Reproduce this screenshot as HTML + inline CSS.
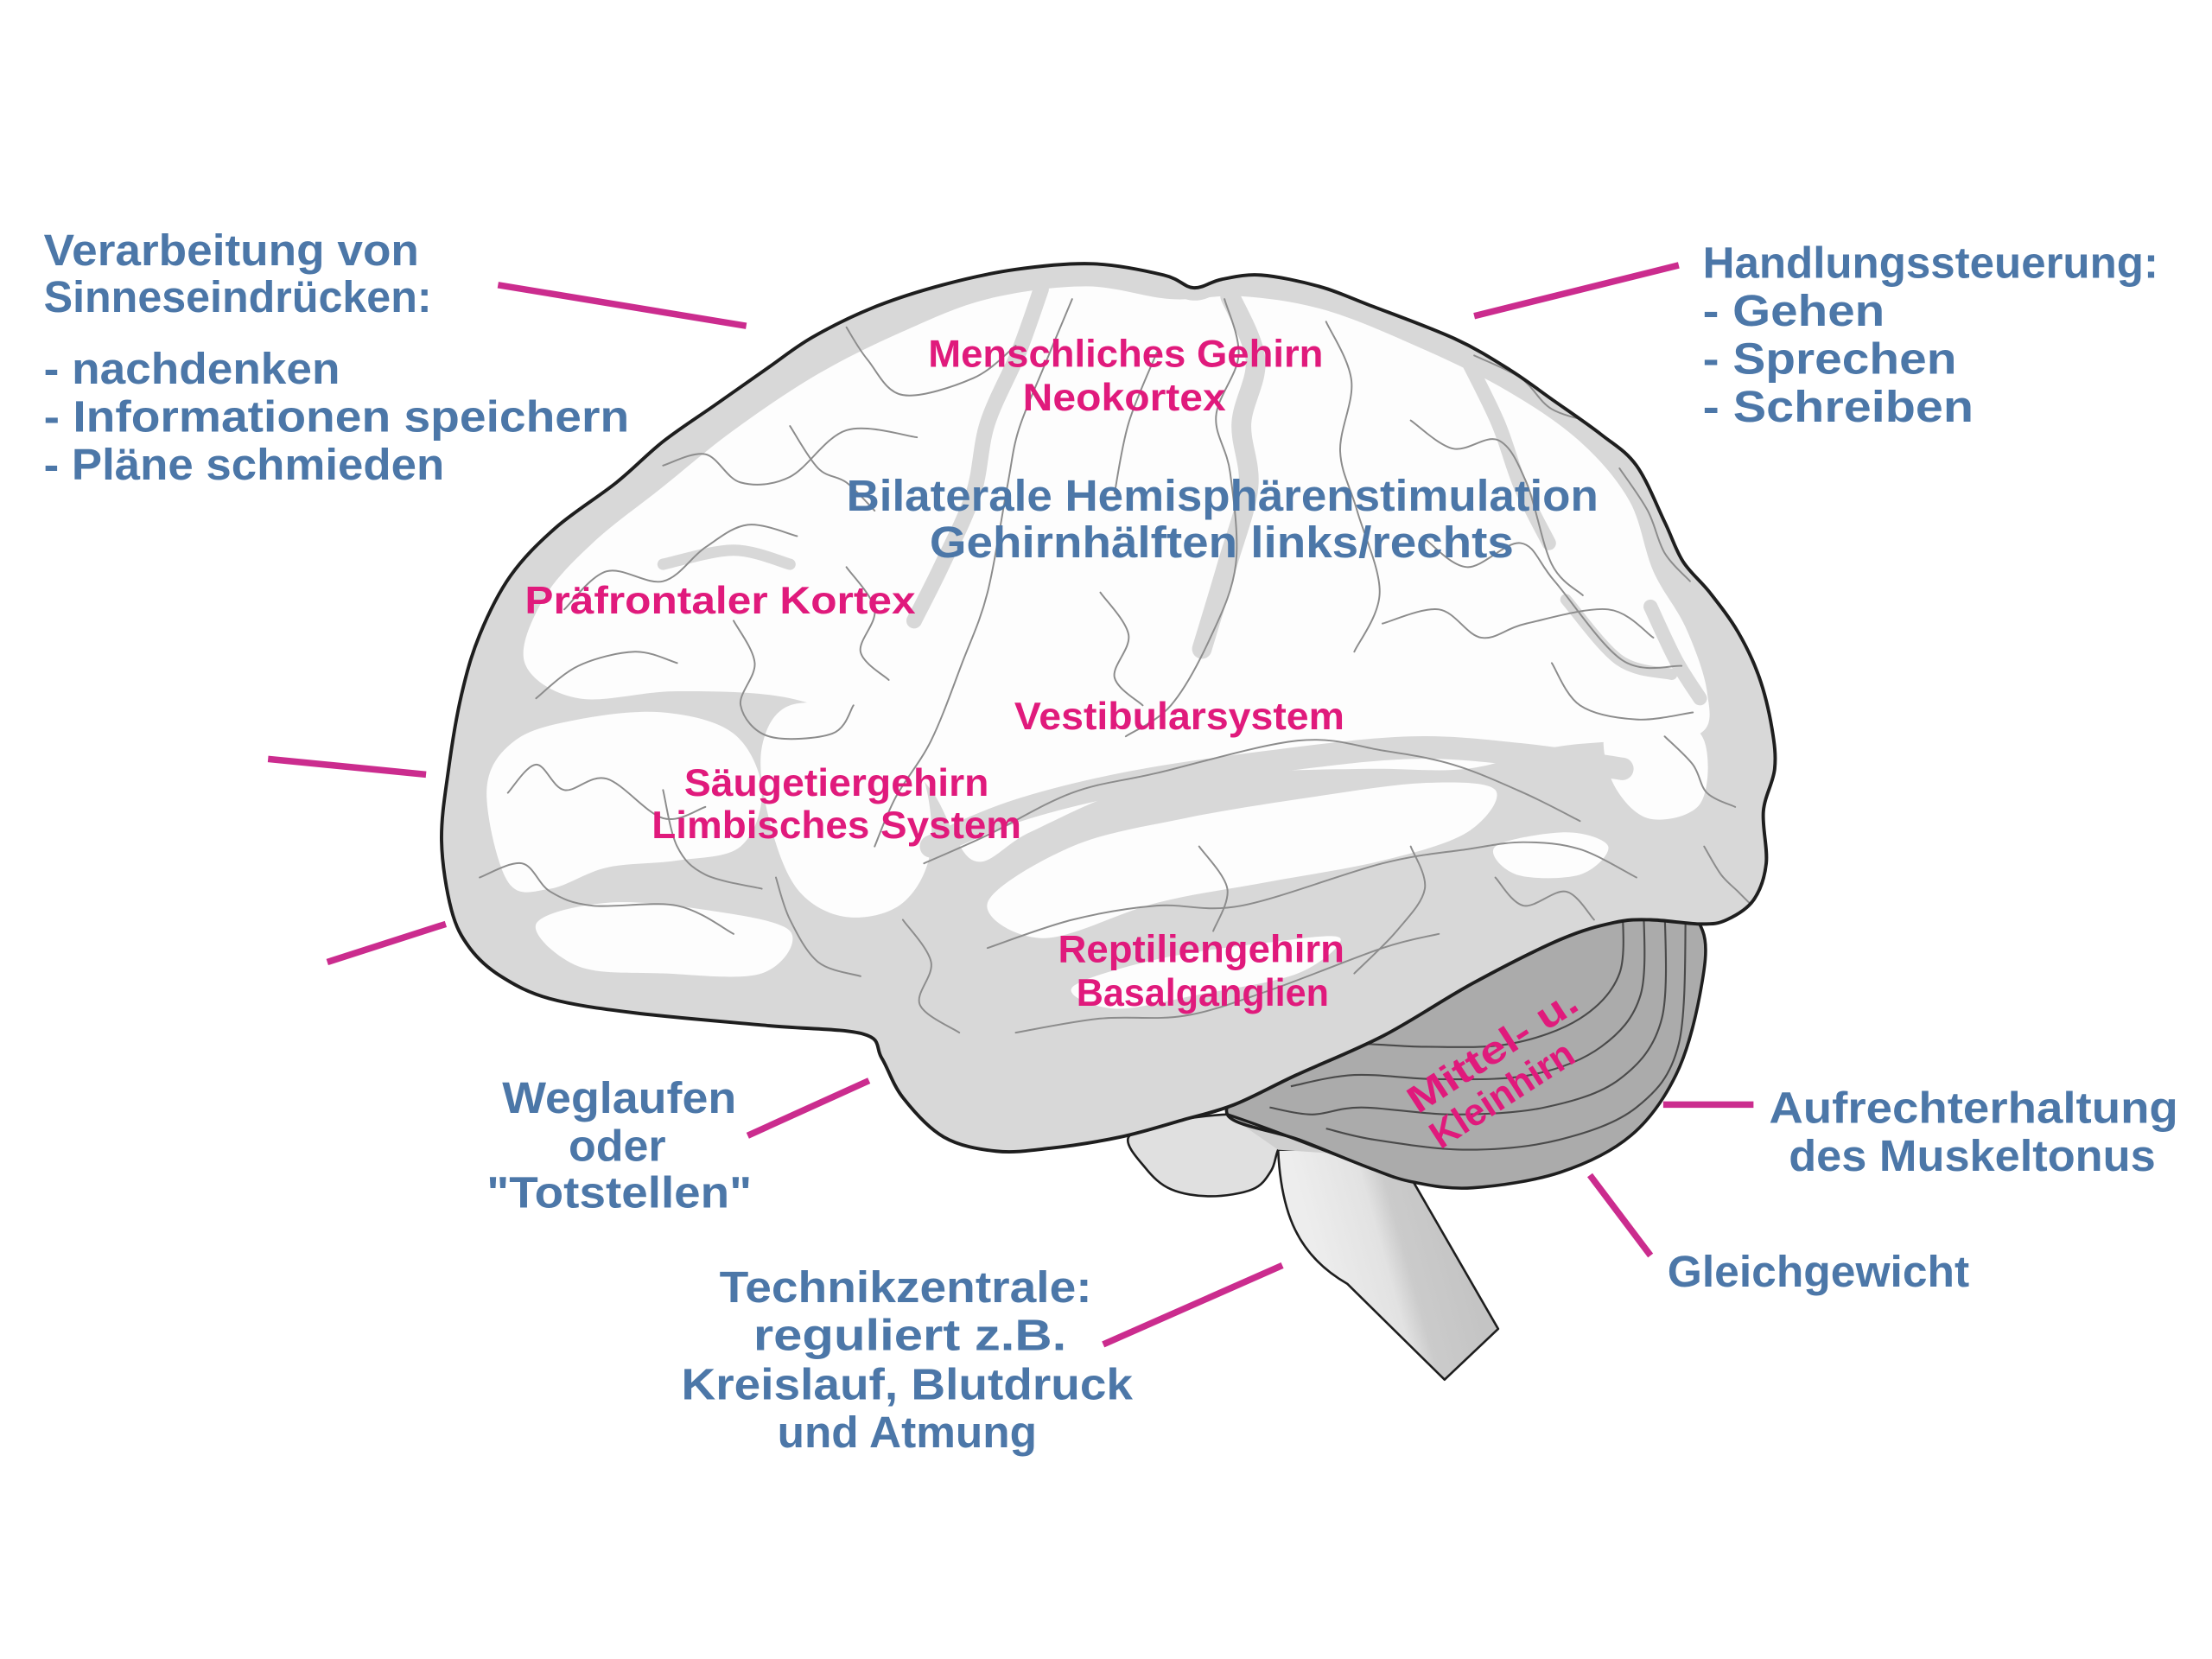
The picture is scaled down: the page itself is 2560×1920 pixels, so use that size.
<!DOCTYPE html>
<html>
<head>
<meta charset="utf-8">
<style>
  html,body{margin:0;padding:0;background:#ffffff;}
  body{width:2560px;height:1920px;overflow:hidden;}
  svg{display:block;}
  .blue{fill:#4c77a8;font-family:"Liberation Sans",sans-serif;font-weight:bold;font-size:31px;}
  .pink{fill:#e01a7c;font-family:"Liberation Sans",sans-serif;font-weight:bold;font-size:27px;}
</style>
</head>
<body>
<svg width="2560" height="1920" viewBox="0 0 1568 1176" xmlns="http://www.w3.org/2000/svg">
  <defs>
    <clipPath id="cerClip">
      <polygon class="s" points="313,596 318,545 327,493 340,450 362,408 394,374 437,342 470,313 507,287 544,261 576,239 619,218 668,202 720,191 775,187 825,195 846,204 866,198 894,195 935,203 970,216 1031,240 1070,262 1100,283 1135,308 1160,330 1180,370 1193,398 1212,420 1232,448 1247,480 1256,516 1258,545 1250,575 1252,612 1243,638 1224,652 1206,655 1170,652 1144,654 1106,666 1044,697 981,734 919,762 875,783 838,794 794,806 744,814 706,816 669,806 640,778 625,750 612,733 544,727 450,718 390,708 355,692 333,672 320,645"/>
    </clipPath>
    <linearGradient id="stemGrad" gradientUnits="userSpaceOnUse" x1="935" y1="895" x2="1032" y2="868">
      <stop offset="0" stop-color="#ededed"/>
      <stop offset="0.45" stop-color="#e2e2e2"/>
      <stop offset="0.6" stop-color="#cbcbcb"/>
      <stop offset="1" stop-color="#c4c4c4"/>
    </linearGradient>
  </defs>

  <!-- Medulla / brainstem -->
  <path d="M906,815 C908,860 920,890 955,910 L1024,978 L1062,942 L1002,838 L950,815 Z" fill="url(#stemGrad)" stroke="#1e1e1e" stroke-width="1.6" stroke-linejoin="round"/>
  <!-- Pons lobe -->
  <polygon class="s" points="800,806 812,828 830,843 858,848 888,843 901,830 906,815 914,800 880,790 830,795" fill="#e0e0e0" stroke="#1e1e1e" stroke-width="1.6"/>
  <path d="M870,790 L921,808 L950,818 L906,815 Z" fill="#cfcfcf"/>

  <!-- Cerebellum -->
  <polygon class="s" points="870,790 921,808 971,828 1002,838 1044,842 1106,831 1156,805 1188,762 1205,705 1207,660 1180,640 1100,650 1000,700 900,760" fill="#ababab" stroke="#1e1e1e" stroke-width="2.2"/>
  <g fill="none" stroke="#4a4a4a" stroke-width="1.3">
    <polyline class="s" points="1150,640 1148,690 1120,722 1070,740 1010,742 960,740 930,745"/>
    <polyline class="s" points="1165,640 1163,705 1135,742 1085,762 1020,765 960,762 915,770"/>
    <polyline class="s" points="1180,640 1178,722 1148,765 1095,785 1030,790 965,785 930,790 900,785"/>
    <polyline class="s" points="1195,645 1190,740 1160,785 1105,808 1040,815 975,808 940,800"/>
  </g>
  <path d="M870,790 C900,800 930,812 971,828" fill="none" stroke="#1e1e1e" stroke-width="2"/>

  <!-- Cerebrum base -->
  <polygon class="s" points="313,596 318,545 327,493 340,450 362,408 394,374 437,342 470,313 507,287 544,261 576,239 619,218 668,202 720,191 775,187 825,195 846,204 866,198 894,195 935,203 970,216 1031,240 1070,262 1100,283 1135,308 1160,330 1180,370 1193,398 1212,420 1232,448 1247,480 1256,516 1258,545 1250,575 1252,612 1243,638 1224,652 1206,655 1170,652 1144,654 1106,666 1044,697 981,734 919,762 875,783 838,794 794,806 744,814 706,816 669,806 640,778 625,750 612,733 544,727 450,718 390,708 355,692 333,672 320,645" fill="#d8d8d8"/>

  <g clip-path="url(#cerClip)">
    <!-- white gyri -->
    <g fill="#fdfdfd">
      <polygon class="s" points="372,470 385,425 420,385 470,345 520,305 580,265 640,235 700,212 770,203 830,212 880,210 940,220 1010,248 1070,278 1120,313 1155,355 1172,405 1195,445 1210,490 1205,520 1150,525 1100,530 1040,545 970,545 880,548 800,560 730,590 690,610 660,560 620,520 560,495 480,490 410,495"/>
      <polygon class="s" points="345,560 365,525 410,510 470,505 520,520 540,560 525,600 480,610 430,615 390,630 360,625"/>
      <polygon class="s" points="700,640 760,600 840,580 930,565 1010,555 1060,560 1040,590 980,610 900,625 820,640 740,665"/>
      <polygon class="s" points="1140,512 1180,505 1208,525 1205,570 1168,580 1142,552"/>
      <polygon class="s" points="760,700 820,680 900,668 950,665 920,690 850,705 790,715"/>
      <polygon class="s" points="380,655 430,640 500,645 560,660 540,690 470,690 410,685"/>
      <polygon class="s" points="560,500 610,505 650,540 660,600 640,640 600,650 565,630 545,580 540,530"/>
      <polygon class="s" points="1060,600 1110,590 1140,600 1120,620 1075,620"/>
    </g>
    <!-- grey sulcus shading bands -->
    <g fill="none" stroke="#d8d8d8" stroke-linecap="round" stroke-linejoin="round">
      <polyline class="s" points="738,205 722,250 700,300 690,350 668,400 648,440" stroke-width="11"/>
      <polyline class="s" points="872,210 890,255 880,300 885,345 870,400 852,460" stroke-width="14"/>
      <polyline class="s" points="1040,255 1062,300 1078,345 1098,385" stroke-width="10"/>
      <polyline class="s" points="660,600 720,575 800,555 900,540 1000,530 1080,535 1150,545" stroke-width="16"/>
      <polyline class="s" points="470,400 520,390 560,400" stroke-width="8"/>
      <polyline class="s" points="1170,430 1188,468 1205,495" stroke-width="10"/>
      <polyline class="s" points="1110,425 1148,468 1185,478" stroke-width="8"/>
    </g>
    <!-- rim shading -->
    <polygon class="s" points="313,596 318,545 327,493 340,450 362,408 394,374 437,342 470,313 507,287 544,261 576,239 619,218 668,202 720,191 775,187 825,195 846,204 866,198 894,195 935,203 970,216 1031,240 1070,262 1100,283 1135,308 1160,330 1180,370 1193,398 1212,420 1232,448 1247,480 1256,516 1258,545 1250,575 1252,612 1243,638 1224,652 1206,655 1170,652 1144,654 1106,666 1044,697 981,734 919,762 875,783 838,794 794,806 744,814 706,816 669,806 640,778 625,750 612,733 544,727 450,718 390,708 355,692 333,672 320,645" fill="none" stroke="#d8d8d8" stroke-width="18"/>
    <!-- sulci lines -->
    <g fill="none" stroke="#8c8c8c" stroke-width="1.2" stroke-linecap="round">
      <polyline class="s" points="470,330 500,322 525,342 560,338 600,305 650,310"/>
      <polyline class="s" points="600,232 615,255 640,280 690,268 720,245"/>
      <polyline class="s" points="400,432 430,405 470,412 500,388 530,372 565,380"/>
      <polyline class="s" points="380,495 410,472 450,462 480,470"/>
      <polyline class="s" points="520,440 535,470 525,500 545,522 590,520 605,500"/>
      <polyline class="s" points="760,212 740,260 722,305 714,345 700,420 682,470 660,525 635,565 620,600"/>
      <polyline class="s" points="868,212 878,252 862,295 872,335 876,400 858,452 830,500 798,522"/>
      <polyline class="s" points="940,228 958,270 950,320 962,362 978,420 960,462"/>
      <polyline class="s" points="1000,298 1030,318 1062,312 1082,342 1100,400 1122,422"/>
      <polyline class="s" points="1045,252 1078,268 1100,290 1132,300"/>
      <polyline class="s" points="980,442 1020,432 1050,452 1082,442 1140,432 1172,452"/>
      <polyline class="s" points="1010,382 1040,402 1078,385 1102,412 1150,468 1192,472"/>
      <polyline class="s" points="1148,332 1168,362 1180,392 1198,412"/>
      <polyline class="s" points="655,612 700,592 760,562 820,548 920,525 980,532 1030,542 1080,562 1120,582"/>
      <polyline class="s" points="700,672 760,652 820,642 880,642 980,612 1040,602 1080,597 1120,602 1160,622"/>
      <polyline class="s" points="720,732 780,722 840,720 900,702 980,672 1020,662"/>
      <polyline class="s" points="1180,522 1200,542 1210,562 1230,572"/>
      <polyline class="s" points="360,562 380,542 400,560 430,552 470,580 500,572"/>
      <polyline class="s" points="340,622 370,612 390,632 420,642 480,642 520,662"/>
      <polyline class="s" points="550,622 560,652 580,682 610,692"/>
      <polyline class="s" points="640,652 660,682 652,712 680,732"/>
      <polyline class="s" points="1060,622 1080,642 1110,632 1130,652"/>
      <polyline class="s" points="1208,600 1220,620 1232,632 1242,642"/>
      <polyline class="s" points="600,402 620,432 610,462 630,482"/>
      <polyline class="s" points="560,302 580,332 600,342 620,362"/>
      <polyline class="s" points="780,420 800,450 790,480 810,500"/>
      <polyline class="s" points="470,560 480,600 500,620 540,630"/>
      <polyline class="s" points="820,250 800,300 790,350"/>
      <polyline class="s" points="1100,470 1120,500 1160,510 1200,505"/>
      <polyline class="s" points="1000,600 1010,630 990,660 960,690"/>
      <polyline class="s" points="850,600 870,630 860,660"/>
    </g>
  </g>

  <!-- Cerebrum outline -->
  <polygon class="s" points="313,596 318,545 327,493 340,450 362,408 394,374 437,342 470,313 507,287 544,261 576,239 619,218 668,202 720,191 775,187 825,195 846,204 866,198 894,195 935,203 970,216 1031,240 1070,262 1100,283 1135,308 1160,330 1180,370 1193,398 1212,420 1232,448 1247,480 1256,516 1258,545 1250,575 1252,612 1243,638 1224,652 1206,655 1170,652 1144,654 1106,666 1044,697 981,734 919,762 875,783 838,794 794,806 744,814 706,816 669,806 640,778 625,750 612,733 544,727 450,718 390,708 355,692 333,672 320,645" fill="none" stroke="#1e1e1e" stroke-width="2.4" stroke-linejoin="round"/>

  <!-- Connector lines -->
  <g stroke="#cb2c8e" stroke-width="4.6" stroke-linecap="butt">
    <line x1="353" y1="202" x2="529" y2="231"/>
    <line x1="1045" y1="224" x2="1190" y2="188"/>
    <line x1="190" y1="538" x2="302" y2="549"/>
    <line x1="232" y1="682" x2="316" y2="655"/>
    <line x1="530" y1="805" x2="616" y2="766"/>
    <line x1="1179" y1="783" x2="1243" y2="783"/>
    <line x1="1127" y1="833" x2="1170" y2="890"/>
    <line x1="782" y1="953" x2="909" y2="897"/>
  </g>

  <!-- Blue labels -->
  <g class="blue">
    <text x="31" y="188" textLength="266" lengthAdjust="spacingAndGlyphs">Verarbeitung von</text>
    <text x="31" y="221" textLength="275" lengthAdjust="spacingAndGlyphs">Sinneseindrücken:</text>
    <text x="31" y="272" textLength="210" lengthAdjust="spacingAndGlyphs">- nachdenken</text>
    <text x="31" y="306" textLength="415" lengthAdjust="spacingAndGlyphs">- Informationen speichern</text>
    <text x="31" y="340" textLength="284" lengthAdjust="spacingAndGlyphs">- Pläne schmieden</text>

    <text x="1207" y="197" textLength="323" lengthAdjust="spacingAndGlyphs">Handlungssteuerung:</text>
    <text x="1207" y="231" textLength="129" lengthAdjust="spacingAndGlyphs">- Gehen</text>
    <text x="1207" y="265" textLength="180" lengthAdjust="spacingAndGlyphs">- Sprechen</text>
    <text x="1207" y="299" textLength="192" lengthAdjust="spacingAndGlyphs">- Schreiben</text>

    <text x="600" y="362" textLength="533" lengthAdjust="spacingAndGlyphs">Bilaterale Hemisphärenstimulation</text>
    <text x="659" y="395" textLength="414" lengthAdjust="spacingAndGlyphs">Gehirnhälften links/rechts</text>

    <text x="356" y="789" textLength="166" lengthAdjust="spacingAndGlyphs">Weglaufen</text>
    <text x="403" y="823" textLength="69" lengthAdjust="spacingAndGlyphs">oder</text>
    <text x="345" y="856" textLength="188" lengthAdjust="spacingAndGlyphs">"Totstellen"</text>

    <text x="510" y="923" textLength="264" lengthAdjust="spacingAndGlyphs">Technikzentrale:</text>
    <text x="534" y="957" textLength="222" lengthAdjust="spacingAndGlyphs">reguliert z.B.</text>
    <text x="483" y="992" textLength="320" lengthAdjust="spacingAndGlyphs">Kreislauf, Blutdruck</text>
    <text x="551" y="1026" textLength="184" lengthAdjust="spacingAndGlyphs">und Atmung</text>

    <text x="1254" y="796" textLength="290" lengthAdjust="spacingAndGlyphs">Aufrechterhaltung</text>
    <text x="1268" y="830" textLength="260" lengthAdjust="spacingAndGlyphs">des Muskeltonus</text>

    <text x="1182" y="912" textLength="214" lengthAdjust="spacingAndGlyphs">Gleichgewicht</text>
  </g>

  <!-- Pink labels -->
  <g class="pink">
    <text x="658" y="260" textLength="280" lengthAdjust="spacingAndGlyphs">Menschliches Gehirn</text>
    <text x="725" y="291" textLength="144" lengthAdjust="spacingAndGlyphs">Neokortex</text>
    <text x="372" y="435" textLength="277" lengthAdjust="spacingAndGlyphs">Präfrontaler Kortex</text>
    <text x="719" y="517" textLength="234" lengthAdjust="spacingAndGlyphs">Vestibularsystem</text>
    <text x="485" y="564" textLength="216" lengthAdjust="spacingAndGlyphs">Säugetiergehirn</text>
    <text x="462" y="594" textLength="262" lengthAdjust="spacingAndGlyphs">Limbisches System</text>
    <text x="750" y="682" textLength="203" lengthAdjust="spacingAndGlyphs">Reptiliengehirn</text>
    <text x="763" y="713" textLength="179" lengthAdjust="spacingAndGlyphs">Basalganglien</text>
    <text transform="translate(1005,790) rotate(-33)" x="0" y="0" textLength="138" lengthAdjust="spacingAndGlyphs">Mittel- u.</text>
    <text transform="translate(1021,815) rotate(-33)" x="0" y="0" textLength="116" lengthAdjust="spacingAndGlyphs">Kleinhirn</text>
  </g>
</svg>
<script>
(function(){
  function cr(p, closed){
    var n=p.length, d='M'+p[0][0]+','+p[0][1];
    function get(i){ return closed ? p[((i%n)+n)%n] : p[Math.max(0,Math.min(n-1,i))]; }
    var segs = closed ? n : n-1;
    for(var i=0;i<segs;i++){
      var p0=get(i-1),p1=get(i),p2=get(i+1),p3=get(i+2);
      var c1x=p1[0]+(p2[0]-p0[0])/6, c1y=p1[1]+(p2[1]-p0[1])/6;
      var c2x=p2[0]-(p3[0]-p1[0])/6, c2y=p2[1]-(p3[1]-p1[1])/6;
      d+=' C'+c1x.toFixed(2)+','+c1y.toFixed(2)+' '+c2x.toFixed(2)+','+c2y.toFixed(2)+' '+p2[0]+','+p2[1];
    }
    if(closed) d+=' Z';
    return d;
  }
  var els=document.querySelectorAll('polygon.s, polyline.s');
  for(var k=0;k<els.length;k++){
    var el=els[k];
    var pts=el.getAttribute('points').trim().split(/\s+/).map(function(s){return s.split(',').map(Number);});
    var path=document.createElementNS('http://www.w3.org/2000/svg','path');
    for(var a=0;a<el.attributes.length;a++){
      var at=el.attributes[a];
      if(at.name!=='points' && at.name!=='class') path.setAttribute(at.name,at.value);
    }
    path.setAttribute('d',cr(pts, el.tagName.toLowerCase()==='polygon'));
    el.parentNode.replaceChild(path, el);
  }
})();
</script>
</body>
</html>
